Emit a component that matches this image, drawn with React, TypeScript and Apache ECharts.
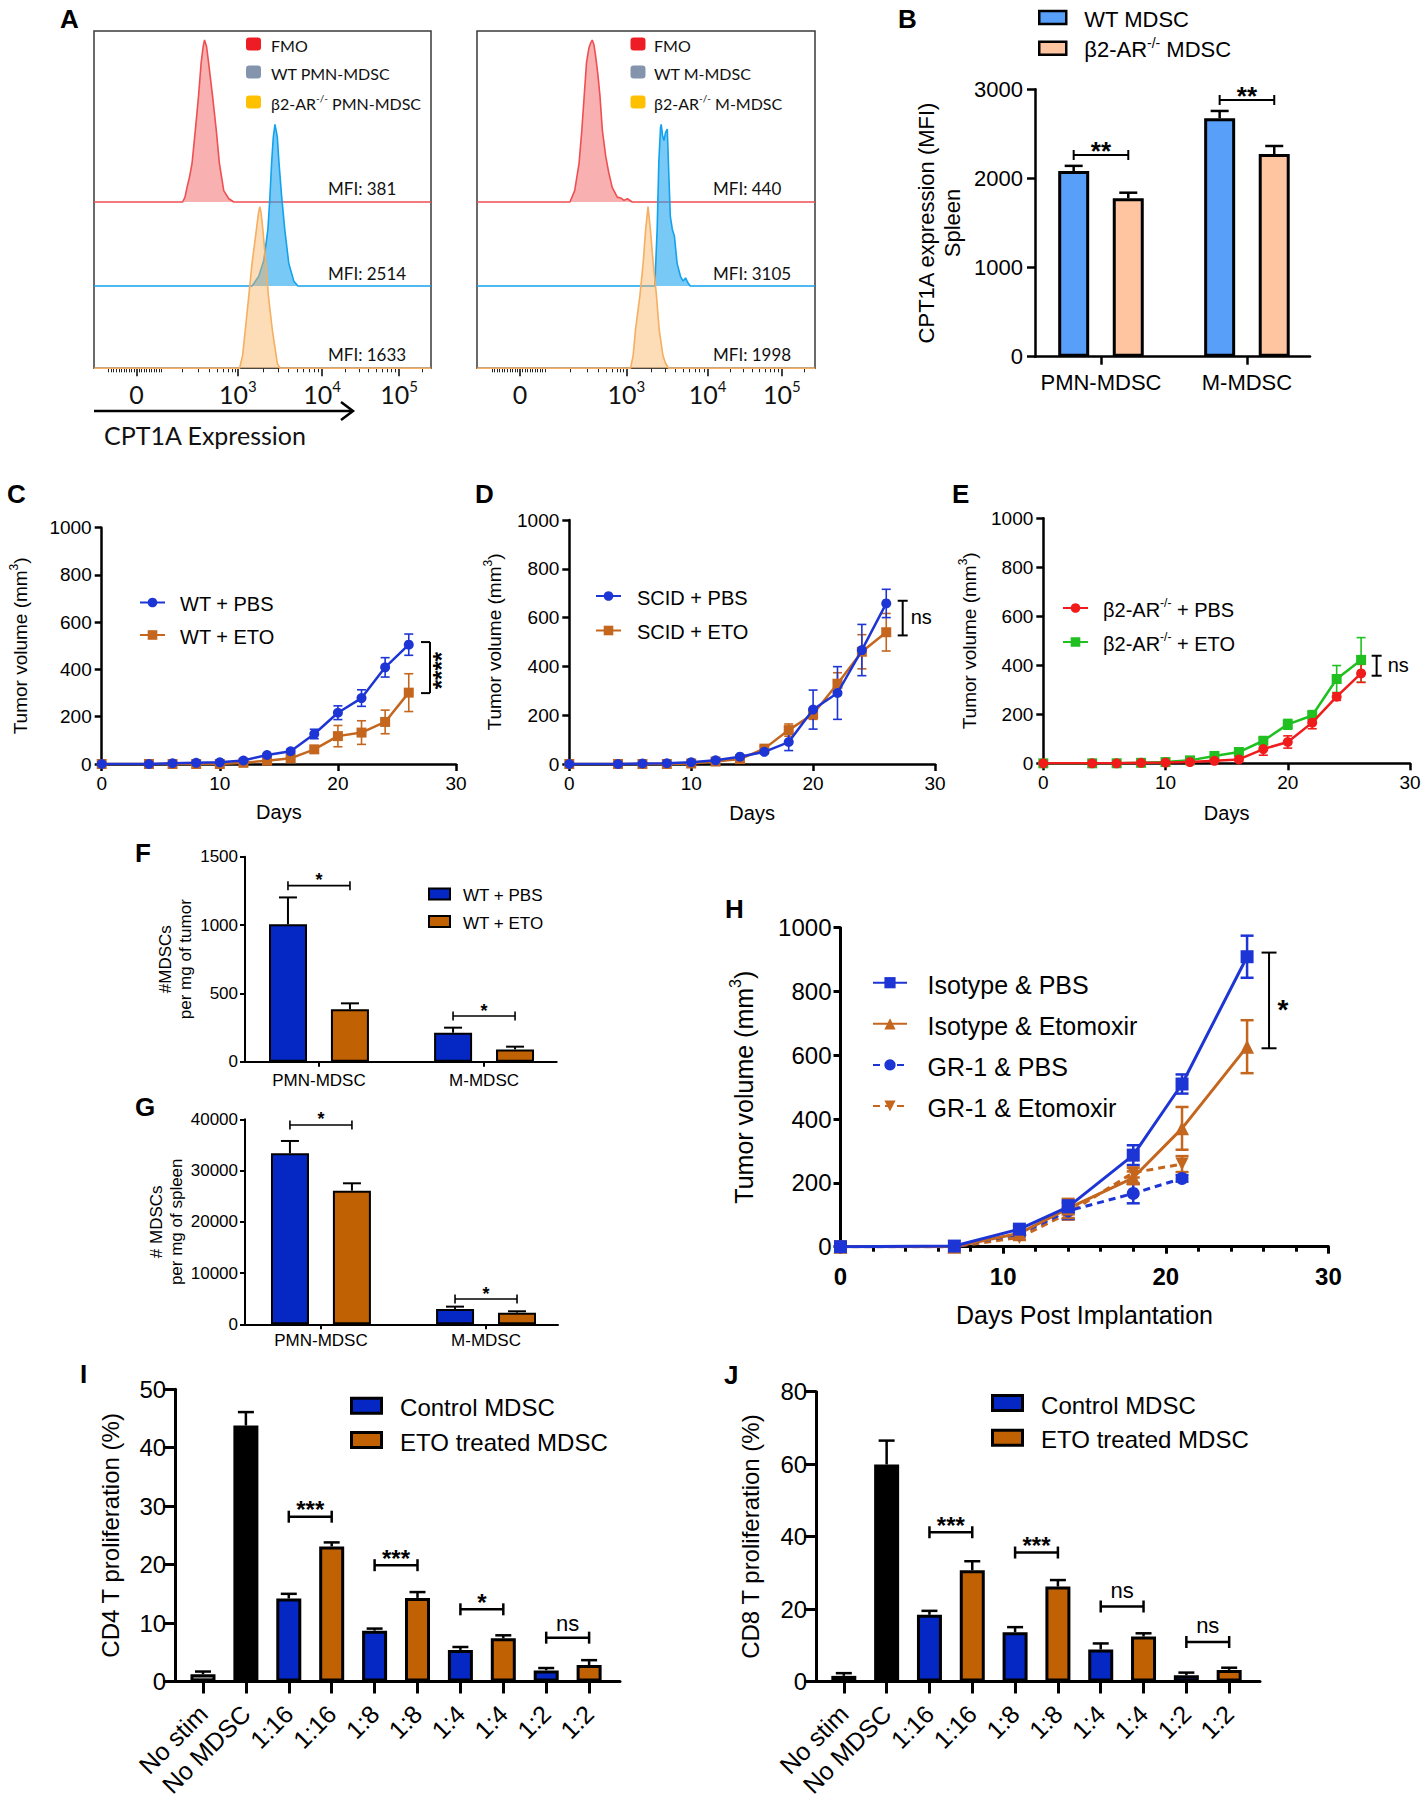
import React, { useEffect, useRef } from "react";
import * as echarts from "echarts";

const SANS = '"Liberation Sans", Arial, Helvetica, sans-serif';
const CAL = 'Lato, "Liberation Sans", sans-serif';
const BLUE = "#0527c4";
const ORANGE = "#c06104";
const LBLUE = "#1d35d4";
const LORANGE = "#c4661e";

// ---------------- Panel A (x: position on the biexponential scale, % of plot width; y: % of mode) -------------
const A_TICK_LABELS = ["0", "10^3", "10^4", "10^5"];
const A_LEFT_TICKS = [12.6, 42.7, 67.7, 90.5];
const A_RIGHT_TICKS = [12.7, 44.2, 68.2, 90.2];
const A_LEFT_NAMES = ["FMO", "WT PMN-MDSC", "β2-AR-/- PMN-MDSC"];
const A_RIGHT_NAMES = ["FMO", "WT M-MDSC", "β2-AR-/- M-MDSC"];
const A_LEFT_MFI = ["MFI: 381", "MFI: 2514", "MFI: 1633"];
const A_RIGHT_MFI = ["MFI: 440", "MFI: 3105", "MFI: 1998"];
const A_LEFT_FMO = [[0, 0], [26.3, 0], [27, 3], [27.6, 9], [28.4, 16], [29.1, 24], [30.1, 45], [31, 65], [31.8, 86], [32.4, 96], [32.8, 100], [33.4, 96], [34, 86], [35.2, 65], [36.3, 44], [37.2, 24], [38.5, 7], [40, 2], [41.5, 0], [100, 0]];
const A_LEFT_WT = [[0, 0], [46.9, 0], [48.9, 6], [50.4, 16], [51.6, 35], [52.2, 55], [52.7, 76], [53.2, 92], [53.7, 100], [54.4, 92], [54.9, 76], [55.7, 55], [56.6, 35], [57.8, 14], [59.3, 3], [60.5, 0], [100, 0]];
const A_LEFT_KO = [[0, 0], [43.2, 0], [44.1, 8], [44.9, 24], [45.9, 44], [46.9, 65], [48.2, 86], [48.8, 96], [49.2, 100], [49.6, 96], [50.1, 86], [51, 65], [51.8, 44], [52.9, 24], [54.4, 3], [55.2, 0], [100, 0]];
const A_RIGHT_FMO = [[0, 0], [27.5, 0], [28.9, 7], [30.2, 24], [31, 44], [31.7, 65], [32.4, 86], [33.1, 95], [33.6, 98], [34.1, 100], [34.6, 97], [35.1, 90], [35.8, 78], [36.4, 65], [37.1, 44], [38.1, 28], [39, 18], [40, 9], [41.5, 3], [42.5, 2.5], [43.5, 1], [44.5, 2], [45.9, 0], [100, 0]];
const A_RIGHT_WT = [[0, 0], [52.6, 0], [53.3, 35], [53.8, 77], [54.3, 98], [54.5, 100], [54.9, 93], [55.3, 90], [55.8, 95], [56.3, 97], [56.8, 66], [57.2, 43], [57.8, 35], [58.4, 31], [59.2, 14], [60.2, 6], [61, 3], [61.7, 5], [62.4, 2], [63.1, 0], [100, 0]];
const A_RIGHT_KO = [[0, 0], [45.4, 0], [46.2, 8], [46.9, 24], [48.2, 45], [49.2, 66], [49.9, 86], [50.6, 100], [51.3, 86], [52.1, 66], [53.1, 45], [53.9, 24], [55, 8], [55.8, 3], [56.7, 0], [100, 0]];

// ---------------- Panel B ----------------
const B_CATS = ["PMN-MDSC", "M-MDSC"];
const B_NAMES = ["WT MDSC", "β2-AR-/- MDSC"];
const B_WT = [2083, 2675];
const B_WT_ERR = [58, 82];
const B_KO = [1777, 2274];
const B_KO_ERR = [63, 90];
const B_SIG_Y = [2263, 2880];
const B_SIG = ["**", "**"];

// ---------------- Panels C, D, E ----------------
const DAYS = [0, 4, 6, 8, 10, 12, 14, 16, 18, 20, 22, 24, 26];
const C_NAMES = ["WT + PBS", "WT + ETO"];
const C_PBS = [0, 0, 3, 5, 7, 15, 38, 54, 127, 217, 279, 409, 505];
const C_PBS_ERR = [0, 0, 0, 0, 0, 3, 5, 8, 20, 29, 35, 41, 45];
const C_ETO = [0, 0, 0, 0, 0, 5, 14, 24, 62, 118, 133, 178, 302];
const C_ETO_ERR = [0, 0, 0, 0, 0, 2, 4, 6, 10, 45, 50, 50, 80];
const C_SIG = ["****"];
const D_NAMES = ["SCID + PBS", "SCID + ETO"];
const D_PBS = [0, 0, 2, 3, 7, 15, 30, 50, 90, 223, 291, 467, 658];
const D_PBS_ERR = [0, 0, 0, 0, 2, 3, 5, 8, 35, 80, 108, 105, 58];
const D_ETO = [0, 0, 0, 0, 2, 10, 20, 63, 139, 205, 329, 460, 540];
const D_ETO_ERR = [0, 0, 0, 0, 1, 3, 4, 10, 25, 22, 45, 70, 77];
const D_SIG = ["ns"];
const E_NAMES = ["β2-AR-/- + PBS", "β2-AR-/- + ETO"];
const E_PBS = [0, 0, 0, 2, 3, 5, 10, 16, 58, 87, 166, 272, 367];
const E_PBS_ERR = [0, 0, 0, 0, 1, 2, 3, 4, 25, 25, 25, 15, 37];
const E_ETO = [0, 0, 0, 2, 5, 12, 30, 46, 92, 159, 195, 344, 422];
const E_ETO_ERR = [0, 0, 0, 0, 1, 3, 5, 6, 10, 20, 20, 55, 91];
const E_SIG = ["ns"];

// ---------------- Panels F, G ----------------
const FG_CATS = ["PMN-MDSC", "M-MDSC"];
const F_PBS = [1005, 212];
const F_PBS_ERR = [197, 37];
const F_ETO = [383, 90];
const F_ETO_ERR = [44, 20];
const F_SIG_Y = [1288, 334];
const G_PBS = [33366, 2992];
const G_PBS_ERR = [2406, 455];
const G_ETO = [26081, 2276];
const G_ETO_ERR = [1431, 261];
const G_SIG_Y = [38888, 4936];
const FG_SIG = ["*", "*"];

// ---------------- Panel H ----------------
const H_NAMES = ["Isotype & PBS", "Isotype & Etomoxir", "GR-1 & PBS", "GR-1 & Etomoxir"];
const H_DAYS = [0, 7, 11, 14, 18, 21, 25];
const H_ISO_PBS = [0, 2, 55, 125, 287, 510, 909];
const H_ISO_PBS_ERR = [0, 0, 10, 20, 31, 30, 66];
const H_ISO_ETO = [0, 0, 42, 120, 216, 371, 627];
const H_ISO_ETO_ERR = [0, 0, 8, 30, 20, 67, 83];
const H_GR1_DAYS = [0, 7, 11, 14, 18, 21];
const H_GR1_PBS = [0, 0, 40, 112, 167, 214];
const H_GR1_PBS_ERR = [0, 0, 8, 25, 31, 10];
const H_GR1_ETO = [0, 0, 29, 105, 232, 259];
const H_GR1_ETO_ERR = [0, 0, 8, 20, 15, 25];
const H_SIG = ["*"];

// ---------------- Panels I, J ----------------
const IJ_CATS = ["No stim", "No MDSC", "1:16", "1:16", "1:8", "1:8", "1:4", "1:4", "1:2", "1:2"];
const IJ_GROUP = ["stim", "none", "ctrl", "eto", "ctrl", "eto", "ctrl", "eto", "ctrl", "eto"];
const IJ_NAMES = ["Control MDSC", "ETO treated MDSC"];
const I_VAL = [1.25, 43.8, 14.2, 23.1, 8.7, 14.3, 5.4, 7.4, 1.9, 2.8];
const I_ERR = [0.45, 2.3, 0.8, 0.7, 0.35, 1.0, 0.5, 0.5, 0.4, 0.85];
const I_SIG_PAIRS = [[2, 3], [4, 5], [6, 7], [8, 9]];
const I_SIG_Y = [28.2, 19.9, 12.35, 7.5];
const I_SIG = ["***", "***", "*", "ns"];
const J_VAL = [1.55, 59.9, 18.4, 30.7, 13.6, 26.2, 8.85, 12.4, 1.7, 3.2];
const J_ERR = [0.75, 6.6, 1.1, 2.5, 1.4, 1.8, 1.65, 0.9, 0.75, 0.6];
const J_SIG_Y = [41.2, 35.6, 20.7, 10.9];
const J_SIG = ["***", "***", "ns", "ns"];

// ---------------- helpers ----------------
function supText(name: string) {
  const k = name.indexOf("-/-");
  if (k < 0) return `{n|${name}}`;
  const head = name.slice(0, k);
  const tail = name.slice(k + 3);
  return `{n|${head}}{s|-/-}` + (tail ? `{n|${tail}}` : "");
}
function richSet(fs: number, family = SANS, color = "#000") {
  const sf = Math.round(fs * 0.62);
  return {
    n: { fontSize: fs, fontFamily: family, color, lineHeight: Math.round(fs * 1.15), verticalAlign: "bottom" },
    s: { fontSize: sf, fontFamily: family, color, lineHeight: sf, verticalAlign: "top" },
  };
}
function minorTicks(p: number[]) {
  const [t0, t3, t4, t5] = p;
  const out: number[] = [];
  for (let k = -11; k <= 10; k++) if (k !== 0) out.push(t0 + k * 0.75);
  [16.6, 11.7, 8.4, 6.1, 4.3, 2.8, 1.7, 0.8].forEach((d) => out.push(t3 - d));
  for (let k = 2; k <= 9; k++) {
    out.push(t3 + (t4 - t3) * Math.log10(k));
    out.push(t4 + (t5 - t4) * Math.log10(k));
  }
  out.push(t5 + (t5 - t4) * Math.log10(2));
  return out.filter((v) => v > 0 && v < 100);
}
function legendBox(o: any) {
  const fam = o.family || SANS;
  return {
    orient: "vertical",
    left: o.left,
    top: o.top,
    padding: 0,
    itemGap: o.gap,
    itemWidth: o.iw,
    itemHeight: o.ih,
    selectedMode: false,
    data: o.names.map((n: string, i: number) => (o.icons ? { name: n, ...o.icons[i] } : n)),
    formatter: supText,
    textStyle: { fontSize: o.fs, fontFamily: fam, color: "#000", padding: [0, 0, 0, o.textGap], rich: richSet(o.fs, fam, o.color || "#000") },
  };
}
function errorBars(gi: number, pts: number[][], color: string, o: any) {
  return {
    type: "custom",
    xAxisIndex: gi,
    yAxisIndex: gi,
    data: pts,
    z: o.z ?? 3,
    silent: true,
    renderItem: (params: any, api: any) => {
      const x = api.value(0), y = api.value(1), e = api.value(2);
      if (!e) return null;
      const c = api.coord([x, y]);
      const hi = api.coord([x, y + e]);
      const lo = o.both ? api.coord([x, Math.max(0, y - e)]) : c;
      const cx = c[0] + (o.dx || 0);
      const style = { stroke: color, lineWidth: o.width };
      const kids: any[] = [
        { type: "line", shape: { x1: cx, y1: lo[1], x2: cx, y2: hi[1] }, style },
        { type: "line", shape: { x1: cx - o.cap, y1: hi[1], x2: cx + o.cap, y2: hi[1] }, style },
      ];
      if (o.both) kids.push({ type: "line", shape: { x1: cx - o.cap, y1: lo[1], x2: cx + o.cap, y2: lo[1] }, style });
      return { type: "group", children: kids };
    },
  };
}
function hBracket(gi: number, rows: number[][], labels: string[], o: any) {
  return {
    type: "custom",
    xAxisIndex: gi,
    yAxisIndex: gi,
    data: rows,
    z: 6,
    silent: true,
    renderItem: (params: any, api: any) => {
      const a = api.coord([api.value(0), api.value(2)]);
      const b = api.coord([api.value(1), api.value(2)]);
      const ax = a[0] + (o.dx1 || 0), bx = b[0] + (o.dx2 || 0), y = a[1];
      const lab = labels[params.dataIndex];
      const star = lab.charAt(0) === "*";
      const style = { stroke: "#000", lineWidth: o.width };
      return {
        type: "group",
        children: [
          { type: "line", shape: { x1: ax, y1: y, x2: bx, y2: y }, style },
          { type: "line", shape: { x1: ax, y1: y - o.cap, x2: ax, y2: y + o.cap }, style },
          { type: "line", shape: { x1: bx, y1: y - o.cap, x2: bx, y2: y + o.cap }, style },
          {
            type: "text",
            x: (ax + bx) / 2,
            y: y + (star ? o.dyStar : o.dyText),
            style: { text: lab, fill: "#000", fontFamily: SANS, fontSize: star ? o.starFs : o.textFs, fontWeight: star ? "bold" : "normal", align: "center", verticalAlign: "middle" },
          },
        ],
      };
    },
  };
}
function vBracket(gi: number, rows: number[][], labels: string[], o: any) {
  return {
    type: "custom",
    xAxisIndex: gi,
    yAxisIndex: gi,
    data: rows,
    z: 6,
    silent: true,
    renderItem: (params: any, api: any) => {
      const a = api.coord([api.value(0), api.value(1)]);
      const b = api.coord([api.value(0), api.value(2)]);
      const x = a[0];
      const lab = labels[params.dataIndex];
      const star = lab.charAt(0) === "*";
      const style = { stroke: "#000", lineWidth: o.width };
      return {
        type: "group",
        children: [
          { type: "line", shape: { x1: x, y1: a[1], x2: x, y2: b[1] }, style },
          { type: "line", shape: { x1: x - o.capL, y1: a[1], x2: x + o.capR, y2: a[1] }, style },
          { type: "line", shape: { x1: x - o.capL, y1: b[1], x2: x + o.capR, y2: b[1] }, style },
          {
            type: "text",
            x: x + o.tx,
            y: (a[1] + b[1]) / 2 + o.ty,
            rotation: o.rot || 0,
            style: { text: lab, fill: "#000", fontFamily: SANS, fontSize: o.fs, fontWeight: star ? "bold" : "normal", align: o.align || "left", verticalAlign: "middle" },
          },
        ],
      };
    },
  };
}
const plainNum = (v: number) => String(v);
function yValueAxis(gi: number, o: any) {
  return {
    gridIndex: gi,
    type: "value",
    min: o.min,
    max: o.max,
    interval: o.interval,
    axisLine: { show: true, onZero: false, lineStyle: { color: "#000", width: o.lw } },
    axisTick: { show: true, length: o.tick, lineStyle: { color: "#000", width: o.lw } },
    axisLabel: { fontFamily: SANS, fontSize: o.fs, color: "#000", margin: o.margin, formatter: plainNum },
    splitLine: { show: false },
    name: o.name,
    nameLocation: "middle",
    nameGap: o.nameGap,
    nameRotate: 90,
    nameTextStyle: o.nameRich
      ? { rich: o.nameRich }
      : { fontFamily: SANS, fontSize: o.nameFs, color: "#000", lineHeight: o.nameLh, align: "center" },
  };
}
function xDaysAxis(gi: number, o: any) {
  return {
    gridIndex: gi,
    type: "value",
    min: 0,
    max: 30,
    interval: 10,
    axisLine: { show: true, onZero: false, lineStyle: { color: "#000", width: o.lw } },
    axisTick: { show: true, length: o.tick, lineStyle: { color: "#000", width: o.lw } },
    minorTick: o.minor ? { show: true, splitNumber: 5, length: o.minor, lineStyle: { color: "#000", width: o.lw } } : { show: false },
    axisLabel: { fontFamily: SANS, fontSize: o.fs, fontWeight: o.weight || "normal", color: "#000", margin: o.margin, formatter: plainNum },
    splitLine: { show: false },
    minorSplitLine: { show: false },
    name: o.name,
    nameLocation: "middle",
    nameGap: o.nameGap,
    nameTextStyle: { fontFamily: SANS, fontSize: o.nameFs, color: "#000" },
  };
}
function xCatAxis(gi: number, cats: string[], o: any) {
  const ticks = cats.map((_, i) => i);
  return {
    gridIndex: gi,
    type: "value",
    min: o.min,
    max: o.max,
    splitLine: { show: false },
    axisLine: { show: true, onZero: false, lineStyle: { color: "#000", width: o.lw } },
    axisTick: { show: true, customValues: ticks, length: o.tick, lineStyle: { color: "#000", width: o.lw } },
    axisLabel: {
      show: true,
      customValues: ticks,
      formatter: (v: number) => cats[Math.round(v)] ?? "",
      fontFamily: SANS,
      fontSize: o.fs,
      color: "#000",
      margin: o.margin,
      rotate: o.rotate || 0,
    },
  };
}

function buildOption() {
  const grid: any[] = [];
  const xAxis: any[] = [];
  const yAxis: any[] = [];
  const series: any[] = [];
  const legend: any[] = [];
  const elements: any[] = [];
  const addGrid = (g: any) => {
    grid.push(g);
    return grid.length - 1;
  };
  const text = (x: number, y: number, t: string, o: any) =>
    elements.push({
      type: "text",
      x,
      y,
      silent: true,
      style: { text: t, fill: o.color || "#000", fontSize: o.size, fontFamily: o.family || SANS, fontWeight: o.weight || "normal", align: o.align || "left", verticalAlign: "middle" },
    });

  // ================= A =================
  const laneColors = [
    { line: "#ef4f52", fill: "rgba(240,80,80,0.45)", key: "#ee1c24" },
    { line: "#12a2ee", fill: "rgba(30,165,240,0.6)", key: "#8494ad" },
    { line: "#f6ae60", fill: "rgba(250,178,98,0.45)", key: "#ffc000" },
  ];
  const lanes = [
    { top: 40, height: 162 },
    { top: 124.3, height: 161.7 },
    { top: 206.7, height: 161.6 },
  ];
  const aPanels = [
    { left: 94, width: 337, ticks: A_LEFT_TICKS, names: A_LEFT_NAMES, curves: [A_LEFT_FMO, A_LEFT_WT, A_LEFT_KO], mfi: A_LEFT_MFI, legLeft: 246, legGap: 5, mfiLeft: 328 },
    { left: 477, width: 338, ticks: A_RIGHT_TICKS, names: A_RIGHT_NAMES, curves: [A_RIGHT_FMO, A_RIGHT_WT, A_RIGHT_KO], mfi: A_RIGHT_MFI, legLeft: 630.5, legGap: 3.5, mfiLeft: 713 },
  ];
  const decadeFmt = (ticks: number[]) => (v: number) => {
    let best = 0;
    ticks.forEach((t, i) => {
      if (Math.abs(t - v) < Math.abs(ticks[best] - v)) best = i;
    });
    const s = A_TICK_LABELS[best];
    if (s.indexOf("^") < 0) return `{b|${s}}`;
    const [b, e] = s.split("^");
    return `{b|${b}}{s|${e}}`;
  };
  aPanels.forEach((p) => {
    const gBox = addGrid({ left: p.left, top: 31, width: p.width, height: 337.3, show: true, borderColor: "#3a3a3a", borderWidth: 1.5, backgroundColor: "transparent" });
    xAxis.push({
      gridIndex: gBox,
      type: "value",
      min: 0,
      max: 100,
      axisLine: { show: false },
      splitLine: { show: false },
      axisTick: { show: true, customValues: p.ticks, length: 8, lineStyle: { color: "#111", width: 1.6 } },
      axisLabel: {
        customValues: p.ticks,
        formatter: decadeFmt(p.ticks),
        margin: 10,
        rich: {
          b: { fontFamily: CAL, fontSize: 25, color: "#111", lineHeight: 28, verticalAlign: "bottom" },
          s: { fontFamily: CAL, fontSize: 15, color: "#111", lineHeight: 15, verticalAlign: "top" },
        },
      },
    });
    yAxis.push({ gridIndex: gBox, type: "value", min: 0, max: 100, show: false });
    p.curves.forEach((curve, k) => {
      const g = addGrid({ left: p.left, top: lanes[k].top, width: p.width, height: lanes[k].height });
      xAxis.push({
        gridIndex: g,
        type: "value",
        min: 0,
        max: 100,
        show: k === 2,
        axisLine: { show: false },
        axisLabel: { show: false },
        splitLine: { show: false },
        axisTick: k === 2 ? { show: true, customValues: minorTicks(p.ticks), length: 4, lineStyle: { color: "#222", width: 1 } } : { show: false },
      });
      yAxis.push({ gridIndex: g, type: "value", min: 0, max: 100, show: false });
      series.push({
        type: "line",
        name: p.names[k],
        xAxisIndex: g,
        yAxisIndex: g,
        data: curve,
        symbol: "none",
        clip: false,
        lineStyle: { color: laneColors[k].line, width: 1.6 },
        itemStyle: { color: laneColors[k].line },
        areaStyle: { color: laneColors[k].fill, opacity: 1 },
        z: 2 + k,
      });
    });
    legend.push(
      legendBox({
        left: p.legLeft,
        top: 37,
        names: p.names,
        iw: 15,
        ih: 13,
        gap: 12,
        fs: 16,
        family: CAL,
        color: "#111",
        textGap: p.legGap,
        icons: laneColors.map((c) => ({ icon: "roundRect", itemStyle: { color: c.key, borderWidth: 0 } })),
      })
    );
    const mfiY = [188, 273, 354];
    p.mfi.forEach((m, i) => text(p.mfiLeft, mfiY[i], m, { size: 17, family: CAL, color: "#111" }));
  });
  elements.push({ type: "line", shape: { x1: 94, y1: 411, x2: 352, y2: 411 }, style: { stroke: "#000", lineWidth: 2.5 } });
  elements.push({ type: "polyline", shape: { points: [[341, 402], [353, 411], [341, 420]] }, style: { stroke: "#000", lineWidth: 2.5, fill: null } });
  text(104, 435, "CPT1A Expression", { size: 25, family: CAL, color: "#111" });

  // ================= B =================
  const gB = addGrid({ left: 1035, top: 89.3, width: 275, height: 267.4 });
  xAxis.push(xCatAxis(gB, B_CATS, { min: -0.452, max: 1.432, lw: 2.5, tick: 8, fs: 22, margin: 15 }));
  yAxis.push(yValueAxis(gB, { min: 0, max: 3000, interval: 1000, lw: 2.5, tick: 8, fs: 22, margin: 12, name: "CPT1A expression (MFI)\nSpleen", nameGap: 70, nameFs: 22, nameLh: 26 }));
  series.push({ type: "bar", name: B_NAMES[0], xAxisIndex: gB, yAxisIndex: gB, data: B_WT.map((v, i) => [i, v]), barWidth: 31, barGap: "76%", itemStyle: { color: "#579ff9", borderColor: "#000", borderWidth: 3 }, z: 2 });
  series.push({ type: "bar", name: B_NAMES[1], xAxisIndex: gB, yAxisIndex: gB, data: B_KO.map((v, i) => [i, v]), barWidth: 31, barGap: "76%", itemStyle: { color: "#fec5a0", borderColor: "#000", borderWidth: 3 }, z: 2 });
  series.push(errorBars(gB, B_WT.map((v, i) => [i, v, B_WT_ERR[i]]), "#000", { cap: 9, width: 2.5, dx: -27.3 }));
  series.push(errorBars(gB, B_KO.map((v, i) => [i, v, B_KO_ERR[i]]), "#000", { cap: 9, width: 2.5, dx: 27.3 }));
  series.push(hBracket(gB, B_SIG_Y.map((y, i) => [i, i, y]), B_SIG, { dx1: -27.3, dx2: 27.3, cap: 5, width: 2, starFs: 26, dyStar: -4 }));
  legend.push(
    legendBox({
      left: 1038, top: 8, names: B_NAMES, iw: 27, ih: 13, gap: 5.7, fs: 22, textGap: 13,
      icons: [{ icon: "rect", itemStyle: { color: "#579ff9", borderColor: "#000", borderWidth: 2.5 } }, { icon: "rect", itemStyle: { color: "#fec5a0", borderColor: "#000", borderWidth: 2.5 } }],
    })
  );

  // ================= C, D, E =================
  const tumorName = (fs: number) => ({
    name: "{n|Tumor volume (mm}{s|3}{n|)}",
    rich: richSet(fs),
  });
  const lineCharts = [
    { box: { left: 101.7, top: 527.7, width: 354.3, height: 236.3 }, yGap: 72, xGap: 38, names: C_NAMES, pbs: C_PBS, pbsErr: C_PBS_ERR, eto: C_ETO, etoErr: C_ETO_ERR, cP: LBLUE, cE: LORANGE, symE: "rect", leg: { left: 139, top: 594, gap: 12.5, textGap: 10 }, sig: C_SIG, br: [[27.8, 516, 300]], brO: { capL: 9, capR: 0, width: 2, tx: 11, ty: 3, rot: Math.PI / 2, align: "center", fs: 24 } },
    { box: { left: 569.3, top: 520, width: 365.7, height: 244 }, yGap: 65, xGap: 39, names: D_NAMES, pbs: D_PBS, pbsErr: D_PBS_ERR, eto: D_ETO, etoErr: D_ETO_ERR, cP: LBLUE, cE: LORANGE, symE: "rect", leg: { left: 595, top: 587.5, gap: 14.5, textGap: 11 }, sig: D_SIG, br: [[27.35, 669, 527]], brO: { capL: 5, capR: 5, width: 2, tx: 8, ty: -1, fs: 20 } },
    { box: { left: 1043.3, top: 518.3, width: 366.7, height: 245 }, yGap: 64, xGap: 40, names: E_NAMES, pbs: E_PBS, pbsErr: E_PBS_ERR, eto: E_ETO, etoErr: E_ETO_ERR, cP: "#f01c1c", cE: "#20c020", symE: "rect", leg: { left: 1062, top: 596.5, gap: 11, textGap: 10 }, sig: E_SIG, br: [[27.27, 439, 357.5]], brO: { capL: 5, capR: 5, width: 2, tx: 11, ty: -1, fs: 20 } },
  ];
  lineCharts.forEach((c) => {
    const g = addGrid(c.box);
    xAxis.push(xDaysAxis(g, { lw: 2.5, tick: 7, fs: 19, margin: 10, name: "Days", nameGap: c.xGap, nameFs: 20 }));
    const tn = tumorName(19);
    yAxis.push(yValueAxis(g, { min: 0, max: 1000, interval: 200, lw: 2.5, tick: 7, fs: 19, margin: 10, name: tn.name, nameRich: tn.rich, nameGap: c.yGap }));
    series.push(errorBars(g, DAYS.map((d, i) => [d, c.eto[i], c.etoErr[i]]), c.cE, { both: true, cap: 4.5, width: 1.6, z: 2 }));
    series.push(errorBars(g, DAYS.map((d, i) => [d, c.pbs[i], c.pbsErr[i]]), c.cP, { both: true, cap: 4.5, width: 1.6, z: 2 }));
    series.push({ type: "line", name: c.names[1], xAxisIndex: g, yAxisIndex: g, data: DAYS.map((d, i) => [d, c.eto[i]]), symbol: c.symE, symbolSize: 10, itemStyle: { color: c.cE }, lineStyle: { color: c.cE, width: 2.5 }, z: 4 });
    series.push({ type: "line", name: c.names[0], xAxisIndex: g, yAxisIndex: g, data: DAYS.map((d, i) => [d, c.pbs[i]]), symbol: "circle", symbolSize: 10, itemStyle: { color: c.cP }, lineStyle: { color: c.cP, width: 2.5 }, z: 5 });
    series.push(vBracket(g, c.br, c.sig, c.brO));
    legend.push(legendBox({ left: c.leg.left, top: c.leg.top, names: c.names, iw: 25, ih: 12, gap: c.leg.gap, fs: 20, textGap: c.leg.textGap }));
  });

  // ================= H =================
  const gH = addGrid({ left: 840.5, top: 927.7, width: 487.9, height: 319 });
  xAxis.push(xDaysAxis(gH, { lw: 3, tick: 7, minor: 5, fs: 24, weight: "bold", margin: 18, name: "Days Post Implantation", nameGap: 56, nameFs: 25 }));
  const hn = tumorName(25);
  yAxis.push(yValueAxis(gH, { min: 0, max: 1000, interval: 200, lw: 3, tick: 7, fs: 24, margin: 9, name: hn.name, nameRich: hn.rich, nameGap: 84 }));
  const hSeries = [
    { name: H_NAMES[3], days: H_GR1_DAYS, v: H_GR1_ETO, e: H_GR1_ETO_ERR, color: LORANGE, symbol: "triangle", rot: 180, size: 13, dash: [7, 5] },
    { name: H_NAMES[2], days: H_GR1_DAYS, v: H_GR1_PBS, e: H_GR1_PBS_ERR, color: LBLUE, symbol: "circle", rot: 0, size: 13, dash: [7, 5] },
    { name: H_NAMES[1], days: H_DAYS, v: H_ISO_ETO, e: H_ISO_ETO_ERR, color: LORANGE, symbol: "triangle", rot: 0, size: 14, dash: null },
    { name: H_NAMES[0], days: H_DAYS, v: H_ISO_PBS, e: H_ISO_PBS_ERR, color: LBLUE, symbol: "rect", rot: 0, size: 13, dash: null },
  ];
  hSeries.forEach((s, k) => {
    series.push(errorBars(gH, s.days.map((d, i) => [d, s.v[i], s.e[i]]), s.color, { both: true, cap: 6.5, width: 2.5, z: 2 }));
    series.push({
      type: "line",
      name: s.name,
      xAxisIndex: gH,
      yAxisIndex: gH,
      data: s.days.map((d, i) => [d, s.v[i]]),
      symbol: s.symbol,
      symbolRotate: s.rot,
      symbolSize: s.size,
      itemStyle: { color: s.color },
      lineStyle: { color: s.color, width: 3, type: s.dash || "solid" },
      z: 4 + k,
    });
  });
  series.push(vBracket(gH, [[26.35, 922, 622]], H_SIG, { capL: 7.5, capR: 7.5, width: 2, tx: 14, ty: 9, align: "center", fs: 28 }));
  legend.push(legendBox({ left: 872, top: 972.2, names: H_NAMES, iw: 34, ih: 14, gap: 16.1, fs: 25, textGap: 15.5 }));

  // ================= F, G =================
  const fgIcons = [
    { icon: "rect", itemStyle: { color: BLUE, borderColor: "#000", borderWidth: 2 } },
    { icon: "rect", itemStyle: { color: ORANGE, borderColor: "#000", borderWidth: 2 } },
  ];
  const fg = [
    { box: { left: 245, top: 856.7, width: 311.7, height: 205 }, min: -0.448, max: 1.44, ymax: 1500, yint: 500, name: "#MDSCs\nper mg of tumor", nameGap: 50, xMargin: 10, pbs: F_PBS, pbsErr: F_PBS_ERR, eto: F_ETO, etoErr: F_ETO_ERR, sigY: F_SIG_Y, legend: true },
    { box: { left: 245, top: 1119.3, width: 313, height: 205 }, min: -0.46, max: 1.436, ymax: 40000, yint: 10000, name: "# MDSCs\nper mg of spleen", nameGap: 58, xMargin: 8, pbs: G_PBS, pbsErr: G_PBS_ERR, eto: G_ETO, etoErr: G_ETO_ERR, sigY: G_SIG_Y, legend: false },
  ];
  fg.forEach((c) => {
    const g = addGrid(c.box);
    xAxis.push(xCatAxis(g, FG_CATS, { min: c.min, max: c.max, lw: 2, tick: 5, fs: 17, margin: c.xMargin }));
    yAxis.push(yValueAxis(g, { min: 0, max: c.ymax, interval: c.yint, lw: 2, tick: 5, fs: 17, margin: 7, name: c.name, nameGap: c.nameGap, nameFs: 17, nameLh: 20 }));
    series.push({ type: "bar", name: C_NAMES[0], xAxisIndex: g, yAxisIndex: g, data: c.pbs.map((v, i) => [i, v]), barWidth: 38, barGap: "63%", itemStyle: { color: BLUE, borderColor: "#000", borderWidth: 2 }, z: 2 });
    series.push({ type: "bar", name: C_NAMES[1], xAxisIndex: g, yAxisIndex: g, data: c.eto.map((v, i) => [i, v]), barWidth: 38, barGap: "63%", itemStyle: { color: ORANGE, borderColor: "#000", borderWidth: 2 }, z: 2 });
    series.push(errorBars(g, c.pbs.map((v, i) => [i, v, c.pbsErr[i]]), "#000", { cap: 9, width: 2, dx: -31 }));
    series.push(errorBars(g, c.eto.map((v, i) => [i, v, c.etoErr[i]]), "#000", { cap: 9, width: 2, dx: 31 }));
    series.push(hBracket(g, c.sigY.map((y, i) => [i, i, y]), FG_SIG, { dx1: -31, dx2: 31, cap: 4.5, width: 1.6, starFs: 18, dyStar: -5.5 }));
    if (c.legend) legend.push(legendBox({ left: 428, top: 887, names: C_NAMES, iw: 21, ih: 11, gap: 10.6, fs: 17, textGap: 8, icons: fgIcons }));
  });

  // ================= I, J =================
  const ijColor: any = { stim: "#a6a6a6", none: "#000000", ctrl: BLUE, eto: ORANGE };
  const ij = [
    { box: { left: 175.1, top: 1389.3, width: 444.9, height: 294 }, min: -0.65, max: 9.72, ymax: 50, yint: 10, name: "CD4 T proliferation (%)", nameGap: 52, vals: I_VAL, errs: I_ERR, sigY: I_SIG_Y, sig: I_SIG, dyText: -14.5, leg: { left: 350, top: 1395.7, gap: 10.4 } },
    { box: { left: 816.2, top: 1391.7, width: 443.8, height: 292.3 }, min: -0.645, max: 9.72, ymax: 80, yint: 20, name: "CD8 T proliferation (%)", nameGap: 53, vals: J_VAL, errs: J_ERR, sigY: J_SIG_Y, sig: J_SIG, dyText: -16, leg: { left: 991, top: 1393, gap: 10.7 } },
  ];
  ij.forEach((c) => {
    const g = addGrid(c.box);
    xAxis.push(xCatAxis(g, IJ_CATS, { min: c.min, max: c.max, lw: 3, tick: 12, fs: 25, margin: 28, rotate: 45 }));
    yAxis.push(yValueAxis(g, { min: 0, max: c.ymax, interval: c.yint, lw: 3, tick: 12, fs: 24, margin: 9, name: c.name, nameGap: c.nameGap, nameFs: 24, nameLh: 26 }));
    const groups = [
      { key: "stim", name: "No stim" },
      { key: "none", name: "No MDSC" },
      { key: "ctrl", name: IJ_NAMES[0] },
      { key: "eto", name: IJ_NAMES[1] },
    ];
    groups.forEach((gr) => {
      const data: number[][] = [];
      c.vals.forEach((v, i) => {
        if (IJ_GROUP[i] === gr.key) data.push([i, v]);
      });
      series.push({ type: "bar", name: gr.name, xAxisIndex: g, yAxisIndex: g, data, barWidth: 25, barGap: "-100%", itemStyle: { color: ijColor[gr.key], borderColor: "#000", borderWidth: 3 }, z: 2 });
    });
    series.push(errorBars(g, c.vals.map((v, i) => [i, v, c.errs[i]]), "#000", { cap: 8, width: 2.5 }));
    series.push(hBracket(g, I_SIG_PAIRS.map((p, i) => [p[0], p[1], c.sigY[i]]), c.sig, { cap: 6, width: 2.5, starFs: 24, textFs: 22, dyStar: -7, dyText: c.dyText }));
    legend.push(
      legendBox({
        left: c.leg.left, top: c.leg.top, names: IJ_NAMES, iw: 30, ih: 15, gap: c.leg.gap, fs: 24, textGap: 13.6,
        icons: [{ icon: "rect", itemStyle: { color: BLUE, borderColor: "#000", borderWidth: 3 } }, { icon: "rect", itemStyle: { color: ORANGE, borderColor: "#000", borderWidth: 3 } }],
      })
    );
  });

  // ================= panel letters =================
  const letters: [string, number, number][] = [
    ["A", 60, 19], ["B", 898, 18.5], ["C", 7, 494], ["D", 475, 494], ["E", 952, 494],
    ["F", 135, 852.5], ["G", 135, 1107], ["H", 725, 908.5], ["I", 80, 1374], ["J", 724, 1375],
  ];
  letters.forEach(([t, x, y]) => text(x, y, t, { size: 26, weight: "bold" }));

  return {
    animation: false,
    backgroundColor: "#ffffff",
    grid,
    xAxis,
    yAxis,
    legend,
    series,
    graphic: { elements },
  };
}

export default function App() {
  const ref = useRef<HTMLDivElement>(null);
  useEffect(() => {
    if (!ref.current) return;
    const chart = echarts.init(ref.current, null, { renderer: "svg" });
    chart.setOption(buildOption() as any);
    return () => chart.dispose();
  }, []);
  return <div ref={ref} style={{ position: "absolute", left: 0, top: 0, width: 1426, height: 1800, background: "#fff" }} />;
}
